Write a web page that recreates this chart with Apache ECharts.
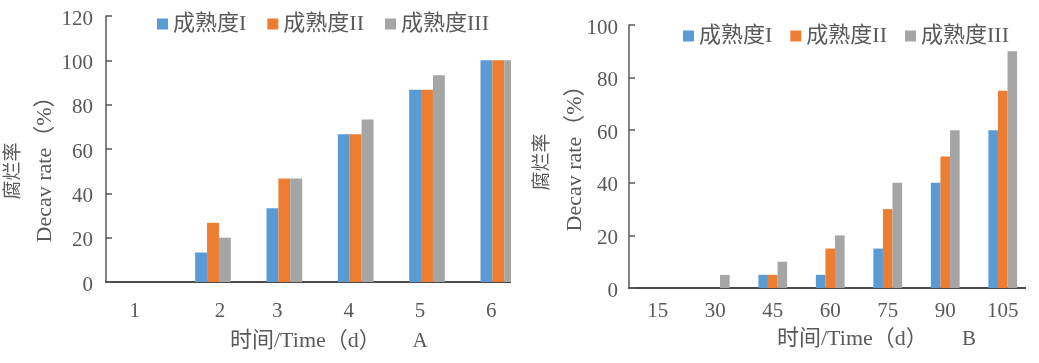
<!DOCTYPE html>
<html>
<head>
<meta charset="utf-8">
<script src="https://cdn.jsdelivr.net/npm/echarts@6/dist/echarts.min.js"></script>
<style>
  html, body { margin: 0; padding: 0; background: #ffffff; }
  body { width: 1039px; height: 363px; position: relative; overflow: hidden; }
  .wrap { position: absolute; top: 0; height: 363px; overflow: hidden; }
  .chart { position: absolute; left: 0; top: 0; height: 363px; }
</style>
</head>
<body>
<div class="wrap" id="wrapA" style="left:0;width:511px;"><div class="chart" id="chartA" style="width:560px;"></div></div>
<div class="wrap" id="wrapB" style="left:530px;width:496px;"><div class="chart" id="chartB" style="width:540px;"></div></div>
<script>
// ---- data ----
const legendNames = ['成熟度I', '成熟度II', '成熟度III'];
const categoriesA = ['1', '2', '3', '4', '5', '6'];
const seriesA1 = [0, 13.3, 33.3, 66.7, 86.7, 100];
const seriesA2 = [0, 26.7, 46.7, 66.7, 86.7, 100];
const seriesA3 = [0, 20, 46.7, 73.3, 93.3, 100];
const categoriesB = ['15', '30', '45', '60', '75', '90', '105'];
const seriesB1 = [0, 0, 5, 5, 15, 40, 60];
const seriesB2 = [0, 0, 5, 15, 30, 50, 75];
const seriesB3 = [0, 5, 10, 20, 40, 60, 90];
const yTitleCN = '腐烂率';
const yTitleEN = 'Decav rate（%）';
const xTitle = '时间/Time（d）';
const panelA = 'A';
const panelB = 'B';

// ---- style ----
const colors = ['#5B9BD5', '#ED7D31', '#A5A5A5'];
const FONT = "'Liberation Serif', 'Noto Sans CJK SC', serif";
const TXT = '#595959';

function txt(x, y, text, size, opts) {
  opts = opts || {};
  const al = opts.align || 'center';
  return {
    type: 'text', x: x, y: y, rotation: opts.rot || 0, silent: true,
    style: {
      text: text,
      font: size + 'px ' + FONT,
      fill: TXT,
      align: al, verticalAlign: 'middle',
      textAlign: al, textVerticalAlign: 'middle'
    }
  };
}

function makeOption(cfg) {
  const seriesData = cfg.series;
  return {
    animation: false,
    color: colors,
    textStyle: { fontFamily: FONT },
    legend: {
      data: legendNames,
      left: cfg.legendLeft, top: cfg.legendTop,
      padding: 0,
      itemWidth: 11, itemHeight: 11, itemGap: cfg.legendGap,
      icon: 'rect',
      textStyle: { fontSize: 22, color: TXT, fontFamily: FONT }
    },
    grid: { left: cfg.gridLeft, top: cfg.gridTop, width: cfg.gridWidth, height: cfg.gridHeight, containLabel: false },
    xAxis: {
      type: 'category',
      data: cfg.categories,
      axisLine: { show: true, lineStyle: { color: '#4a4a4a', width: 2 } },
      axisTick: { show: false },
      axisLabel: {
        fontSize: 21, color: TXT, fontFamily: FONT, margin: cfg.xLabelMargin,
        formatter: cfg.xFormatter,
        rich: cfg.xRich
      },
      splitLine: { show: false }
    },
    yAxis: {
      type: 'value',
      min: 0, max: cfg.yMax, interval: 20,
      axisLine: { show: true, lineStyle: { color: '#595959', width: 1.5 } },
      axisTick: { show: true, inside: true, length: 6, lineStyle: { color: '#595959', width: 1.5 } },
      axisLabel: {
        fontSize: 21, color: TXT, fontFamily: FONT, margin: cfg.yLabelMargin,
        formatter: function (v) { return '{a|' + v + '}'; },
        rich: { a: { fontSize: 21, color: TXT, fontFamily: FONT, padding: [6, 0, 0, 0] } }
      },
      splitLine: { show: false }
    },
    graphic: cfg.graphic,
    series: legendNames.map(function (n, i) {
      return {
        name: n, type: 'bar', data: seriesData[i],
        barGap: '0%', barCategoryGap: '50%',
        itemStyle: { color: colors[i] }
      };
    })
  };
}

const chartA = echarts.init(document.getElementById('chartA'), null, { renderer: 'canvas' });
chartA.setOption(makeOption({
  categories: categoriesA,
  series: [seriesA1, seriesA2, seriesA3],
  yMax: 120,
  gridLeft: 106, gridTop: 16, gridWidth: 428, gridHeight: 266,
  legendLeft: 157, legendTop: 13, legendGap: 21,
  xLabelMargin: 19, yLabelMargin: 13,
  xFormatter: function (v, i) { return '{' + (i === 1 ? 'r' : 'l') + '|' + v + '}'; },
  xRich: {
    l: { fontSize: 21, color: TXT, fontFamily: FONT, padding: [0, 14, 0, 0] },
    r: { fontSize: 21, color: TXT, fontFamily: FONT, padding: [0, 0, 0, 14] }
  },
  graphic: [
    txt(14, 171, yTitleCN, 19, { rot: Math.PI / 2 }),
    txt(45, 164, yTitleEN, 22, { rot: Math.PI / 2 }),
    txt(230, 341, xTitle, 22, { align: 'left' }),
    txt(420, 341, panelA, 21)
  ]
}));

const chartB = echarts.init(document.getElementById('chartB'), null, { renderer: 'canvas' });
chartB.setOption(makeOption({
  categories: categoriesB,
  series: [seriesB1, seriesB2, seriesB3],
  yMax: 100,
  gridLeft: 99, gridTop: 25, gridWidth: 402.5, gridHeight: 263,
  legendLeft: 153, legendTop: 25, legendGap: 18,
  xLabelMargin: 13, yLabelMargin: 11,
  xFormatter: function (v) { return v; },
  xRich: {},
  graphic: [
    txt(13, 162, yTitleCN, 19, { rot: Math.PI / 2 }),
    txt(45, 153, yTitleEN, 22, { rot: Math.PI / 2 }),
    txt(247, 339, xTitle, 22, { align: 'left' }),
    txt(439, 339, panelB, 21)
  ]
}));
</script>
</body>
</html>
